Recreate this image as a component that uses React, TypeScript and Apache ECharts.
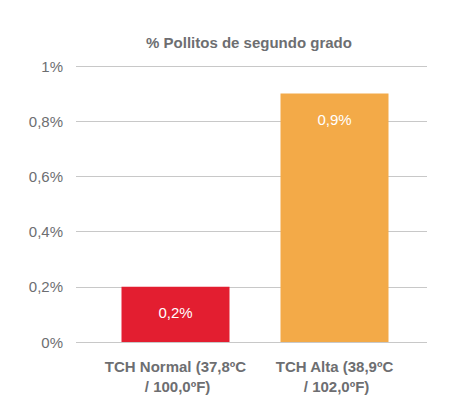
import React, { useEffect, useRef } from "react";
import * as echarts from "echarts";

const categories = ["TCH Normal (37,8ºC\n / 100,0ºF)", "TCH Alta (38,9ºC\n / 102,0ºF)"];
const values = [0.2, 0.9];
const barColors = ["#e31e30", "#f3aa48"];
const titleText = "% Pollitos de segundo grado";

const FONT = "'Liberation Sans', Arial, sans-serif";
const GREY = "#6d6e71";

const pct = (v: number) => (v === 0 || v === 1 ? `${v}%` : `${v.toFixed(1).replace(".", ",")}%`);

export default function App() {
  const ref = useRef<HTMLDivElement>(null);

  useEffect(() => {
    if (!ref.current) return;
    const chart = echarts.init(ref.current, undefined, { renderer: "svg" });
    chart.setOption({
      animation: false,
      backgroundColor: "#ffffff",
      graphic: [
        {
          type: "text",
          x: 249,
          y: 42,
          style: {
            text: titleText,
            fill: GREY,
            font: `bold 15px ${FONT}`,
            textAlign: "center",
            textVerticalAlign: "middle",
          },
        },
      ],
      grid: [
        { left: 76, right: 28, top: 66, bottom: 61 },
        { left: 96, right: 41, top: 66, bottom: 61 },
      ],
      xAxis: [
        { type: "category", gridIndex: 0, data: categories, show: false },
        {
          type: "category",
          gridIndex: 1,
          data: categories,
          axisLine: { show: false },
          axisTick: { show: false },
          axisLabel: {
            color: GREY,
            fontFamily: FONT,
            fontWeight: "bold",
            fontSize: 15,
            lineHeight: 20,
            margin: 14,
            interval: 0,
          },
        },
      ],
      yAxis: [
        {
          type: "value",
          gridIndex: 0,
          min: 0,
          max: 1,
          interval: 0.2,
          axisLine: { show: false },
          axisTick: { show: false },
          splitLine: { lineStyle: { color: "#c8c8c8", width: 1 } },
          axisLabel: {
            color: GREY,
            fontFamily: FONT,
            fontSize: 15,
            margin: 13,
            formatter: pct,
          },
        },
        { type: "value", gridIndex: 1, min: 0, max: 1, show: false },
      ],
      series: [
        {
          type: "bar",
          xAxisIndex: 1,
          yAxisIndex: 1,
          barWidth: 108,
          data: values.map((v, i) => ({ value: v, itemStyle: { color: barColors[i] } })),
          label: {
            show: true,
            position: "insideTop",
            distance: 18,
            color: "#ffffff",
            fontFamily: FONT,
            fontSize: 15,
            formatter: (p: any) => pct(p.value),
          },
        },
      ],
    });
    return () => chart.dispose();
  }, []);

  return <div ref={ref} style={{ position: "fixed", left: 0, top: 0, width: 455, height: 403 }} />;
}
